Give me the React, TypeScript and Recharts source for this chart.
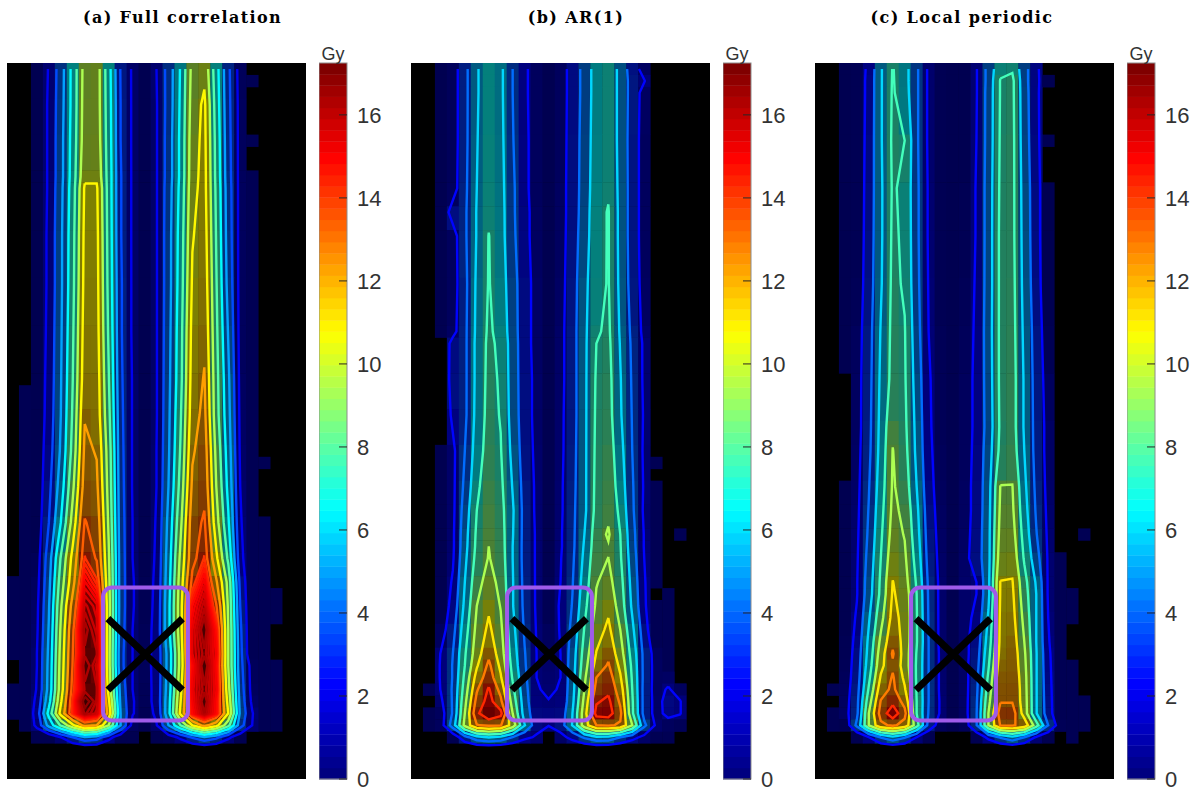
import React from "react";
import { ScatterChart, Scatter, XAxis, YAxis, ReferenceArea } from "recharts";

const CMAX = 17.25;
const COLS = 25;
const ROWS = 60;
const COL_OFFSET = 2;
const PANEL_W = 299;
const PANEL_H = 716;
const CELL_W = PANEL_W / COLS;
const CELL_H = PANEL_H / ROWS;

const titles = ["(a) Full correlation", "(b) AR(1)", "(c) Local periodic"];
const titleCenters = [182.5, 576, 962];
const panelLefts = [7, 411, 815];
const barTicks = [0, 2, 4, 6, 8, 10, 12, 14, 16];

const levelsA = [1.5, 3, 4.5, 6, 7.5, 9, 10.5, 12, 13.5, 14.25, 14.5, 14.75, 15, 15.25, 15.5, 15.75, 16, 16.25, 16.5, 17];
const levelsB = [1.8, 3.6, 5.4, 7.2, 9, 10.8, 12.6, 14.4, 16.2];
const levelsC = [1.8, 3.6, 5.4, 7.2, 9, 10.8, 12.6, 14.4, 16.2];

const rowsA = [0, 3, 6, 9, 10, 14, 18, 22, 26, 29, 32, 35, 38, 41, 43, 45, 47, 49, 50, 52, 53, 54, 55, 56, 57];
const gridA = [
  [.3,1.6,3.8,6.5,9.6,9.8,6.6,2.9,1.3,.5,1.5,3.6,6.1,9.5,10.1,6.6,3.3,.9],
  [.3,1.7,3.9,6.5,9.7,9.8,6.7,3,1.3,.5,1.4,3.6,6.2,9.7,10.8,6.8,3.4,1],
  [.3,1.7,4,6.6,9.8,9.9,6.8,3,1.3,.5,1.4,3.7,6.3,9.9,10.9,7,3.5,1],
  [.3,1.7,4,6.7,10.2,10.2,6.9,3.1,1.3,.5,1.4,3.7,6.3,10,11,7.1,3.6,1],
  [.3,1.7,4.1,6.8,10.7,10.7,6.9,3.1,1.3,.5,1.4,3.8,6.4,10.1,11,7.2,3.7,1],
  [.3,1.8,4.2,7,10.9,10.9,7,3.1,1.3,.5,1.4,3.9,6.6,10.4,11.2,7.4,3.8,1],
  [.3,1.8,4.2,7.1,11,11,7.1,3.2,1.3,.5,1.4,3.9,6.7,10.7,11.4,7.6,4,1],
  [.3,1.9,4.3,7.3,11.2,11.1,7.3,3.2,1.3,.5,1.4,4,6.9,11,11.7,7.8,4.4,1],
  [.4,2,4.4,7.5,11.4,11.3,7.6,3.3,1.4,.5,1.4,4.1,7,11.2,12.1,8,4.8,1.1],
  [.4,2.1,4.5,7.7,11.9,11.4,7.9,3.4,1.4,.5,1.4,4.2,7.3,11.4,12.4,8.1,5,1.2],
  [.5,2.3,4.7,8,12.3,11.9,8.3,3.5,1.4,.5,1.5,4.3,7.6,11.8,12.8,8.6,5.3,1.3],
  [.5,2.6,5.2,8.7,12.7,12.3,8.5,3.6,1.4,.5,1.5,4.5,8,12.3,13.1,9,5.6,1.5],
  [.6,3,6,9.6,13.6,12.9,8.8,3.7,1.5,.6,1.6,4.9,8.6,12.9,13.7,9.6,6.2,1.7],
  [.8,3.8,7.6,11,14.3,13.4,9.2,3.8,1.5,.6,1.7,5.2,9.3,13.1,14.3,10.8,7.2,2],
  [1,4.1,8.2,11.5,15.3,14.4,9.4,3.8,1.6,.7,1.8,5.4,9.7,13.9,15.4,12.2,8.5,2.6],
  [1.2,4.4,8.8,12.6,16.1,15.6,9.6,3.8,1.6,.7,1.9,5.6,9.9,15,16.2,13.6,8.8,3],
  [1.3,4.6,9.2,13.3,16.7,15.9,9.6,3.7,1.5,.8,2,5.6,9.9,15.5,16.9,14.8,9,3.3],
  [1.5,4.8,9.5,13.5,16.4,16.3,9.5,3.5,1.5,.9,2,5,9.5,15.5,16.4,15.2,9,3.5],
  [1.5,4.9,9.6,13.6,16.9,15.9,9.5,3.5,1.5,.9,2,5,9.5,15,17,15,9,3.5,.9],
  [1.6,5,9.8,14,16.3,16.3,10,4,1.5,.8,2,5.2,10,15.4,16.4,15.3,9.5,3.8,1],
  [1.9,5.5,10.3,14.4,17.5,16.2,10.8,4.2,1.6,.8,2,5.4,10.4,15.2,16.9,15,10,4,1.2],
  [2.2,6.5,11,14.5,16.6,15.9,11.5,4.5,1.6,.7,1.8,5.5,10.8,15,16.5,15,10.5,4.2,1.6],
  [1.9,5,7.7,10.2,12.5,12,9,4.5,1,.3,1.4,4.5,7.5,10.5,12.5,11,8,3.6,1.5],
  [.2,.3,1.5,3,4.3,3.8,2,.6,.2,0,.2,.8,1.8,3.2,4.3,3.4,1.8,.6],
  [],
];
const edgesA = [[1,27,55],[0,43,49],[0,52,54],[20,1,1],[20,6,6],[20,9,55],[21,33,33],[21,38,55],[22,44,46],[22,50,55]];

const rowsB = [0, 1, 2, 6, 10, 12, 14, 18, 22, 23, 26, 29, 32, 35, 37, 39, 40, 41, 43, 45, 47, 49, 50, 51, 52, 53, 54, 55, 56, 57];
const gridB = [
  [.3,.9,3.1,5.2,6.6,5.8,3.6,2.1,1,.5,1,2.5,4.2,6.3,6.9,4.8,2.7,1.1],
  [.3,.9,3.1,5.2,6.6,5.8,3.6,2.1,1,.5,1,2.5,4.2,6.3,6.9,4.8,2.9,1.9],
  [.3,.9,3.1,5.2,6.6,5.8,3.6,2.1,1,.5,1,2.5,4.2,6.3,6.9,4.8,2.9,1.1],
  [.3,.9,3.1,5.3,6.7,5.9,3.7,2.2,1,.5,1,2.6,4.3,6.4,6.9,4.8,2.8,1],
  [.3,1,3.2,5.4,6.8,6,3.9,2.2,1,.5,1.1,2.6,4.4,6.5,7,4.9,2.8,1],
  [.4,2.6,3.3,5.5,6.9,6.1,3.9,2.3,1.1,.5,1.1,2.6,4.5,6.6,7.3,4.9,2.8,1],
  [.3,1,3.3,5.5,7.25,6.1,4,2.3,1.1,.5,1.1,2.7,4.6,6.6,7.3,4.9,2.8,1],
  [.3,1,3.1,5.7,7.3,6.3,4.3,2.5,1.2,.5,1.2,2.8,4.9,6.7,7.3,5,2.9,1.1],
  [.3,1.2,3.2,5.8,7.5,6.6,4.4,2.5,1.2,.5,1.3,2.9,5,7,7.5,5.2,3.2,1.3],
  [0,2.5,3.2,5.9,7.6,6.8,4.5,2.5,1.2,.5,1.3,2.9,5,7.2,7.6,5.3,3.3,1.5],
  [0,2.6,3.2,5.9,7.7,7,4.5,2.6,1.3,.5,1.3,2.9,5,7.4,7.8,5.5,3.4,1.5],
  [0,2.2,3.2,6,7.8,7.1,4.6,2.6,1.3,.5,1.4,2.9,5,7.5,7.9,5.6,3.5,1.6],
  [.3,1.4,3.6,6.3,8,7.3,4.9,2.7,1.4,.5,1.4,3,5,7.6,8.2,6,3.6,1.5],
  [.3,1.4,4,6.8,8.4,7.6,5.3,2.9,1.5,.5,1.5,3.1,5,7.7,8.4,6.4,3.8,1.6],
  [.3,1.4,4.4,7.2,8.7,7.8,5.6,3,1.5,.5,1.5,3.2,5,7.8,8.6,6.8,3.9,1.5],
  [.3,1.5,4.7,7.5,8.9,8,5.5,3,1.6,.6,1.6,3.2,5.4,8.2,9.2,7.2,4.2,1.7],
  [.35,1.5,4.8,7.6,9,8.1,5.4,3,1.6,.6,1.6,3.2,5.6,8.3,8.85,7.3,4.3,1.7],
  [.4,1.6,5,7.8,9.1,8.2,5.4,3,1.6,.6,1.7,3.3,5.8,8.5,9.02,7.4,4.5,1.8],
  [.5,2,5.4,8.4,9.7,8.5,5.5,3.1,1.6,.7,1.8,3.5,6.2,8.9,9.6,7.8,4.8,2],
  [.6,2.4,5.8,9,10.5,8.9,5.5,3.2,1.6,.7,2,3.7,6.7,9.3,10.4,8.2,5.1,2.1],
  [1,3,6.4,9.5,11.2,9.4,5.9,3.4,1.7,1,1.9,4.1,7.3,10,11.2,9,5.8,2.6],
  [1.9,3.6,7,10,12.2,9.9,6.3,3.7,1.8,1.3,1.8,4.5,7.9,10.9,12.2,9.8,6.5,3.1,1],
  [2,3.7,7.2,10.6,13,10.4,6.6,3.8,1.8,1.4,1.8,4.6,8.2,11.5,12.8,10.4,6.8,3.1,1.1],
  [2,3.7,7.6,11.5,13.6,11,7,4,1.8,1.5,1.8,4.7,8.6,12.6,13.5,11,7,3.1,1.1,1.2],
  [1.9,3.8,8,12.4,14.6,12,7.6,4.2,1.9,1.6,1.9,4.8,9,13.2,14,11.7,7.2,3,1.1,2,1],
  [1.5,3.8,8.5,13.2,15.1,13,8.2,4.4,2,1.85,2,5,9.5,14.2,14.8,12.3,7.4,3,1.2,2.4,1.9],
  [1,3.8,9,14,16,14.9,9,4.6,2.4,2.3,2.4,5.4,10,15,15.2,13,7.5,3,1.2,2.3,1.9],
  [1,4.5,9.5,12.5,12.9,12.7,10,5.5,2.4,1.9,2.7,5.5,10,12.6,12.8,12.4,9,4,1.5,1,.8],
  [0,.6,3,4.8,5.5,5,3.6,2.2,1.6,0,1.2,2.4,3.9,5.1,5,3.6,2.4,1.3],
  [],
];
const edgesB = [[1,52,52],[1,54,55],[20,33,33],[20,35,43],[20,45,56],[21,44,56],[22,39,39],[22,52,55]];

const rowsC = [0, 1, 2, 6, 10, 14, 18, 22, 26, 30, 32, 35, 37, 39, 41, 43, 44, 46, 48, 49, 50, 51, 52, 53, 54, 55, 56, 57];
const gridC = [
  [.3,.7,2.2,5.2,7.3,6.1,3.9,1.5,.7,.5,.6,1.7,4.2,6.8,7,4.2,2.3,0],
  [.3,.7,2.3,5.2,7.35,6.1,3.9,1.5,.7,.5,.6,1.7,4.2,7.3,7.6,4.2,2.3,.3],
  [.3,.7,2.3,5.2,7.4,6.2,3.9,1.5,.7,.5,.6,1.7,4.3,7.3,7.6,4.3,2.3,0],
  [.3,.7,2.4,5.2,7.5,7.2,3.9,1.5,.7,.5,.6,1.8,4.3,7.4,7.7,4.4,2.4,0],
  [.3,.7,2.5,5.1,7.4,6.8,4,1.6,.7,.5,.7,1.9,4.4,7.5,7.7,4.6,2.5,.3],
  [.3,.7,2.6,5.1,7.5,6.9,4,1.6,.7,.5,.7,1.9,4.4,7.6,7.7,4.7,2.5,.3],
  [.3,.8,2.7,5.2,7.6,7,4.1,1.7,.7,.5,.8,2,4.4,7.6,7.8,4.8,2.6,.4],
  [.3,1,2.9,5.5,7.7,7.3,4.3,1.8,.8,.5,.9,2.1,4.5,7.6,7.9,5,2.8,.7],
  [0,1.1,3,5.7,7.8,7.4,4.6,2,.8,.5,1,2.2,4.4,7.6,8,5.2,2.9,1],
  [0,1.1,3.1,5.9,8.7,7.6,4.9,2.1,.8,.5,1,2.2,4.3,7.5,8,5.2,3,1.2],
  [0,1.2,3.2,6,9.05,7.8,5,2.2,.9,.5,1,2.3,4.5,7.7,8.2,5.4,3,1.2],
  [.3,1.3,3.5,6.3,9.2,8.2,5.4,2.4,1,.5,1.1,2.4,4.7,9.05,9.05,5.8,3.2,1.3],
  [.3,1.4,3.7,6.6,9.4,8.6,5.8,2.6,1.1,.5,1.1,2.4,4.8,9.3,9.3,6.1,3.4,1.4],
  [.3,1.5,3.9,6.9,9.7,8.9,6.1,2.8,1.2,.5,1.2,2.5,4.9,9.6,9.7,6.5,3.7,1.5],
  [.4,1.6,4.2,7.2,10.2,9.3,6.5,3,1.3,.5,1.3,2.6,4.9,10,10.2,7,4.3,1.6],
  [.5,1.7,4.5,7.5,10.85,9.7,7,3.3,1.4,.5,1.4,1.8,5,10.85,10.9,7.8,5.2,1.6],
  [.6,1.7,4.6,7.6,11,10,7.2,3.4,1.4,.5,1.4,1.8,5,10.9,11.1,8,5.4,1.6],
  [.6,2,5.2,8.4,11.4,10.2,7.3,3.5,1.4,.5,1.4,2.1,5.6,11.1,11.4,8.5,5.4,1.8],
  [.7,2.3,5.8,9.4,12.2,10.1,7.3,3.6,1.4,.5,1.4,2.5,6.2,11.2,11.8,9,5.4,2],
  [.7,2.5,6,9.9,12.8,10,7.1,3.6,1.5,.5,1.3,2.7,6.6,11.4,12,9.3,5.5,2.2],
  [.8,2.6,6.3,10.3,12.3,10,7,3.6,1.5,.5,1.3,2.9,7,11.8,12.1,9.5,5.5,2.3],
  [.9,2.7,6.8,11,12.8,10.4,7,3.6,1.5,.5,1.2,3.1,7.5,12.2,12.3,9.7,5.5,2.4],
  [1,2.9,7.4,11.8,13,11,7.1,3.6,1.5,.5,1.2,3.2,8,12.4,12.5,9.8,5.5,2.5],
  [1.1,3.1,8.2,12.7,13.9,12,7.2,3.6,1.6,.5,1.2,3.4,8.5,12.5,12.5,9.9,5.5,2.6],
  [1.2,3.2,9,13.3,15.5,13.1,7.2,3.5,1.6,.6,1.2,3.5,9,13.4,13.5,10,5.5,2.7],
  [.5,4,9,12.2,12.9,12,8,3,.9,.6,.9,3.5,9,12.7,12.8,12,8,3.6,.8],
  [0,.2,1.8,3.7,5,3.8,1.8,.4,0,0,0,.6,2.2,3.8,5,3.6,1.6,.5],
  [],
];
const edgesC = [[1,52,52],[1,54,55],[19,1,1],[19,6,6],[20,41,55],[21,44,46],[21,50,56],[22,39,39],[22,53,55]];

const boxCols = [8.03, 15.13];
const boxRows = [43.96, 55.1];
const crossDown = [{ x: 8.44, y: 46.56 }, { x: 14.67, y: 52.55 }];
const crossUp = [{ x: 8.44, y: 52.55 }, { x: 14.67, y: 46.56 }];

const clamp = (v: number) => Math.max(0, Math.min(1, v));
function jet(t: number, a = 1) {
  const c = (v: number) => Math.round(clamp(v) * 255 * a);
  return `rgb(${c(1.5 - Math.abs(4 * t - 3))},${c(1.5 - Math.abs(4 * t - 2))},${c(1.5 - Math.abs(4 * t - 1))})`;
}

function buildCells(rows: number[], grid: number[][], edges: number[][]) {
  const cells: any[] = [];
  edges.forEach(([col, r1, r2]) => {
    cells.push({ x: col + 0.5, y: (r1 + r2 + 1) / 2, h: r2 - r1 + 1, fill: jet(0.04, 0.5) });
  });
  rows.forEach((r, i) => {
    if (i === rows.length - 1) return;
    const next = rows[i + 1];
    grid[i].forEach((v, k) => {
      if (v > 0) cells.push({ x: k + COL_OFFSET + 0.5, y: (r + next) / 2, h: next - r, fill: jet(Math.max(v, 0.6) / CMAX, 0.5) });
    });
  });
  return cells;
}

function contourLines(rows: number[], grid: number[][], level: number) {
  const val = (i: number, c: number) => {
    const v = grid[i][c - COL_OFFSET];
    return v === undefined ? 0 : v;
  };
  const segs: [number[], number[]][] = [];
  for (let i = 0; i < rows.length - 1; i++) {
    const y0 = rows[i] + 0.5;
    const y1 = rows[i + 1] + 0.5;
    for (let c = 0; c < COLS - 1; c++) {
      const a = val(i, c), b = val(i, c + 1), d = val(i + 1, c), e = val(i + 1, c + 1);
      const pts: number[][] = [];
      const top = a >= level !== b >= level ? [c + 0.5 + (level - a) / (b - a), y0] : null;
      const right = b >= level !== e >= level ? [c + 1.5, y0 + ((level - b) / (e - b)) * (y1 - y0)] : null;
      const bottom = d >= level !== e >= level ? [c + 0.5 + (level - d) / (e - d), y1] : null;
      const left = a >= level !== d >= level ? [c + 0.5, y0 + ((level - a) / (d - a)) * (y1 - y0)] : null;
      [top, right, bottom, left].forEach((p) => p && pts.push(p));
      if (pts.length === 2) segs.push([pts[0], pts[1]]);
      else if (pts.length === 4) {
        const avg = (a + b + d + e) / 4;
        if ((a >= level) === (avg >= level)) {
          segs.push([top as number[], right as number[]]);
          segs.push([bottom as number[], left as number[]]);
        } else {
          segs.push([top as number[], left as number[]]);
          segs.push([bottom as number[], right as number[]]);
        }
      }
    }
  }
  const key = (p: number[]) => `${p[0].toFixed(4)},${p[1].toFixed(4)}`;
  const byEnd = new Map<string, number[]>();
  segs.forEach((s, n) => {
    s.forEach((p) => {
      const k = key(p);
      byEnd.set(k, [...(byEnd.get(k) || []), n]);
    });
  });
  const used = new Set<number>();
  const walk = (start: number[], n: number) => {
    const out = [start];
    let cur = start;
    let seg = n;
    while (seg !== -1) {
      used.add(seg);
      const s = segs[seg];
      const nxt = key(s[0]) === key(cur) ? s[1] : s[0];
      out.push(nxt);
      cur = nxt;
      const cand = (byEnd.get(key(cur)) || []).filter((m) => !used.has(m));
      seg = cand.length ? cand[0] : -1;
    }
    return out;
  };
  const lines: { x: number; y: number }[][] = [];
  segs.forEach((s, n) => {
    if (!used.has(n) && (byEnd.get(key(s[0])) || []).length === 1) lines.push(walk(s[0], n).map((p) => ({ x: p[0], y: p[1] })));
  });
  segs.forEach((s, n) => {
    if (!used.has(n) && (byEnd.get(key(s[1])) || []).length === 1) lines.push(walk(s[1], n).map((p) => ({ x: p[0], y: p[1] })));
  });
  segs.forEach((s, n) => {
    if (!used.has(n)) lines.push(walk(s[0], n).map((p) => ({ x: p[0], y: p[1] })));
  });
  return lines;
}

const CellShape = (p: any) => {
  const h = p.payload.h * CELL_H;
  return <rect x={p.cx - CELL_W / 2} y={p.cy - h / 2} width={CELL_W + 0.4} height={h + 0.4} fill={p.payload.fill} />;
};
const NoShape = () => <g />;
const boxPoint = [{ x: (boxCols[0] + boxCols[1]) / 2, y: (boxRows[0] + boxRows[1]) / 2 }];
const BoxShape = (p: any) => {
  const w = (boxCols[1] - boxCols[0]) * CELL_W;
  const h = (boxRows[1] - boxRows[0]) * CELL_H;
  return <rect x={p.cx - w / 2} y={p.cy - h / 2} width={w} height={h} rx={9} ry={9} fill="none" stroke="#9f5bea" strokeWidth={4} />;
};

function levelColor(lv: number) {
  return jet((lv < 13 ? lv + 0.4 : lv) / CMAX);
}

function HeatPanel({ rows, grid, edges, levels, left }: any) {
  const cells = buildCells(rows, grid, edges);
  const lines = levels.flatMap((lv: number) =>
    contourLines(rows, grid, lv).map((pts) => ({ pts, color: levelColor(lv) }))
  );
  return (
    <div style={{ position: "absolute", left, top: 63, width: PANEL_W, height: PANEL_H, background: "#000" }}>
      <ScatterChart width={PANEL_W} height={PANEL_H} margin={{ top: 0, right: 0, bottom: 0, left: 0 }}>
        <XAxis type="number" dataKey="x" domain={[0, COLS]} hide allowDataOverflow />
        <YAxis type="number" dataKey="y" domain={[0, ROWS]} hide reversed allowDataOverflow />
        <Scatter data={cells} shape={CellShape} isAnimationActive={false} />
        {lines.map((l: any, i: number) => (
          <Scatter key={i} data={l.pts} shape={NoShape} line={{ stroke: l.color, strokeWidth: 2.4 }} isAnimationActive={false} />
        ))}
        <Scatter data={boxPoint} shape={BoxShape} isAnimationActive={false} />
        <Scatter data={crossDown} shape={NoShape} line={{ stroke: "#000", strokeWidth: 7 }} isAnimationActive={false} />
        <Scatter data={crossUp} shape={NoShape} line={{ stroke: "#000", strokeWidth: 7 }} isAnimationActive={false} />
      </ScatterChart>
    </div>
  );
}

const barBands = Array.from({ length: 64 }, (_, i) => ({
  x: 0.5,
  y: ((i + 0.5) * CMAX) / 64,
  fill: jet(i / 63),
}));
const barFrame = [{ x: 0.5, y: CMAX / 2 }];

const BandShape = (p: any) => {
  const h = PANEL_H / 64;
  return <rect x={p.cx - 14} y={p.cy - h / 2} width={28} height={h + 0.4} fill={p.payload.fill} />;
};
const FrameShape = (p: any) => (
  <rect x={p.cx - 14} y={p.cy - PANEL_H / 2} width={28} height={PANEL_H} fill="none" stroke="#8c8c8c" strokeWidth={1} />
);

const BarTick = (p: any) => (
  <g>
    <line x1={p.x - 8} x2={p.x} y1={p.y} y2={p.y} stroke="#262626" strokeWidth={1} />
    <text x={p.x + 10} y={p.y} dy={8} fontSize={22} fontFamily="Liberation Sans, Arial, sans-serif" fill="#333">
      {p.payload.value}
    </text>
  </g>
);

function ColorBar({ left }: any) {
  return (
    <div style={{ position: "absolute", left, top: 33, width: 72, height: 759 }}>
      <ScatterChart width={72} height={759} margin={{ top: 30, right: 0, bottom: 13, left: 0 }}>
        <XAxis type="number" dataKey="x" domain={[0, 1]} hide />
        <YAxis
          type="number"
          dataKey="y"
          orientation="right"
          width={44}
          domain={[0, CMAX]}
          ticks={barTicks}
          interval={0}
          axisLine={false}
          tickLine={false}
          tickSize={0}
          tickMargin={0}
          tick={BarTick}
        />
        <Scatter data={barBands} shape={BandShape} isAnimationActive={false} />
        <Scatter data={barFrame} shape={FrameShape} isAnimationActive={false} />
        <ReferenceArea
          x1={0}
          x2={1}
          y1={0}
          y2={CMAX}
          fill="none"
          fillOpacity={0}
          stroke="none"
          label={{ value: "Gy", position: "top", fontSize: 18, fill: "#333", fontFamily: "Liberation Sans, Arial, sans-serif", offset: 3 }}
        />
      </ScatterChart>
    </div>
  );
}

export default function App() {
  const panels = [
    { rows: rowsA, grid: gridA, edges: edgesA, levels: levelsA },
    { rows: rowsB, grid: gridB, edges: edgesB, levels: levelsB },
    { rows: rowsC, grid: gridC, edges: edgesC, levels: levelsC },
  ];
  return (
    <div style={{ position: "absolute", left: 0, top: 0, width: 1199, height: 792, background: "#fff", overflow: "hidden" }}>
      {titles.map((t, i) => (
        <div
          key={t}
          style={{
            position: "absolute",
            left: titleCenters[i] - 150,
            width: 300,
            top: 8,
            textAlign: "center",
            fontFamily: "DejaVu Serif, serif",
            fontWeight: 700,
            fontSize: 16,
            letterSpacing: 1.4,
            color: "#000",
          }}
        >
          {t}
        </div>
      ))}
      {panels.map((p, i) => (
        <React.Fragment key={i}>
          <HeatPanel {...p} left={panelLefts[i]} />
          <ColorBar left={panelLefts[i] + 312} />
        </React.Fragment>
      ))}
    </div>
  );
}
